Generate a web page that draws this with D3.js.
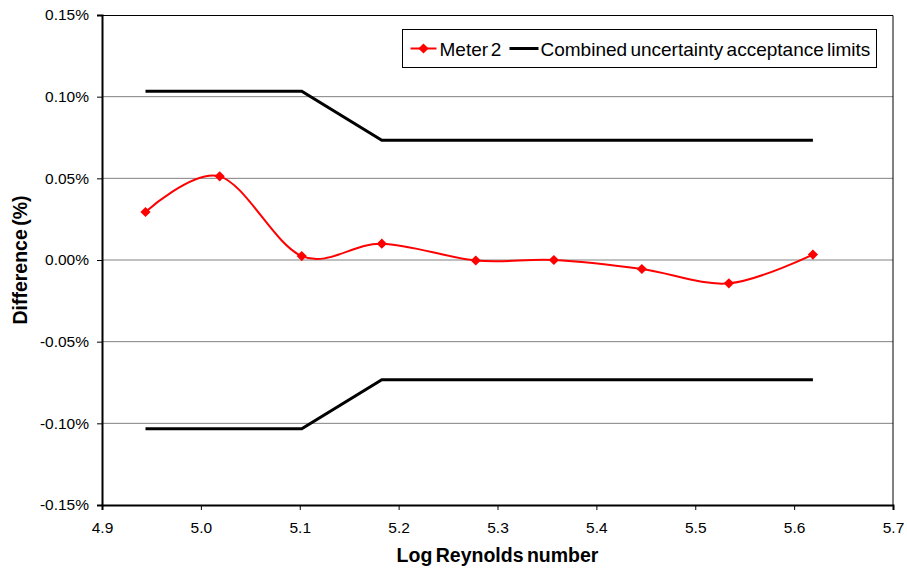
<!DOCTYPE html>
<html>
<head>
  <meta charset="utf-8">
  <title>Meter 2 difference</title>
  <script src="https://d3js.org/d3.v7.min.js"></script>
  <style>
    body { margin: 0; background: #fff; }
    text { font-family: "Liberation Sans", Arial, sans-serif; }
  </style>
</head>
<body>
  <div id="chart"></div>

  <script>
    // data
    var logRe = [4.944, 5.019, 5.102, 5.183, 5.278, 5.357, 5.446, 5.534, 5.619];
    var meter2 = [0.0294, 0.0512, 0.0024, 0.0100, -0.0003, 0.0000, -0.0055, -0.0143, 0.0033];
    var limitX = [4.944, 5.102, 5.183, 5.619];
    var upperLimit = [0.1033, 0.1033, 0.0733, 0.0733];
    var lowerLimit = [-0.1033, -0.1033, -0.0733, -0.0733];
    var xTicks = [4.9, 5.0, 5.1, 5.2, 5.3, 5.4, 5.5, 5.6, 5.7];
    var yTicks = [-0.15, -0.10, -0.05, 0, 0.05, 0.10, 0.15];

    var W = 907, H = 568;
    var margin = { top: 15, right: 14, bottom: 63, left: 102 };
    var width = W - margin.left - margin.right;
    var height = H - margin.top - margin.bottom;

    var svg = d3.select('#chart').append('svg')
      .attr('width', W)
      .attr('height', H);

    var g = svg.append('g')
      .attr('transform', 'translate(' + margin.left + ',' + margin.top + ')');

    var x = d3.scaleLinear().domain([4.9, 5.7]).range([0, width]);
    var y = d3.scaleLinear().domain([-0.15, 0.15]).range([height, 0]);

    // gridlines
    g.selectAll('.grid')
      .data(yTicks.slice(1, -1))
      .enter()
      .append('line')
      .attr('x1', 0)
      .attr('x2', width)
      .attr('y1', function(d) { return y(d); })
      .attr('y2', function(d) { return y(d); })
      .attr('stroke', '#808080')
      .attr('stroke-width', 1);

    // plot area border (top, right)
    g.append('path')
      .attr('d', 'M0,0.5H' + width + 'V' + height)
      .attr('fill', 'none')
      .attr('stroke', '#000')
      .attr('stroke-width', 1);

    // axes
    var yFmt = function(d) { return d3.format('.2f')(d).replace('\u2212', '-') + '%'; };

    var xAxis = g.append('g')
      .attr('transform', 'translate(0,' + height + ')')
      .call(d3.axisBottom(x).tickValues(xTicks).tickFormat(d3.format('.1f')).tickSizeOuter(0).tickSize(5).tickPadding(12));

    var yAxis = g.append('g')
      .call(d3.axisLeft(y).tickValues(yTicks).tickFormat(yFmt).tickSizeOuter(0).tickSize(5).tickPadding(8));

    [xAxis, yAxis].forEach(function(a) {
      a.select('.domain').attr('stroke', '#000').attr('stroke-width', 2);
      a.selectAll('.tick line').attr('stroke', '#000');
      a.selectAll('.tick text')
        .attr('fill', '#000')
        .style('font-size', '15.5px')
        .style('font-family', '"Liberation Sans", Arial, sans-serif');
    });

    // limit lines
    var straight = d3.line()
      .x(function(d) { return x(d[0]); })
      .y(function(d) { return y(d[1]); });

    [upperLimit, lowerLimit].forEach(function(lim) {
      g.append('path')
        .datum(d3.zip(limitX, lim))
        .attr('d', straight)
        .attr('fill', 'none')
        .attr('stroke', '#000')
        .attr('stroke-width', 3);
    });

    // meter 2 smoothed line
    var smooth = d3.line()
      .curve(d3.curveCatmullRom.alpha(0))
      .x(function(d) { return x(d[0]); })
      .y(function(d) { return y(d[1]); });

    var meterData = d3.zip(logRe, meter2);

    g.append('path')
      .datum(meterData)
      .attr('d', smooth)
      .attr('fill', 'none')
      .attr('stroke', '#ff0000')
      .attr('stroke-width', 2);

    // square turned 45 degrees, like excel's diamond
    var diamond = d3.symbol().type(d3.symbolSquare).size(52);

    g.selectAll('.pt')
      .data(meterData)
      .enter()
      .append('path')
      .attr('class', 'pt')
      .attr('d', diamond)
      .attr('transform', function(d) { return 'translate(' + x(d[0]) + ',' + y(d[1]) + ') rotate(45)'; })
      .attr('fill', '#ff0000');

    // legend
    var leg = svg.append('g').attr('transform', 'translate(402.5,29.5)');
    leg.append('rect')
      .attr('width', 474)
      .attr('height', 38)
      .attr('fill', '#fff')
      .attr('stroke', '#000')
      .attr('stroke-width', 1);

    leg.append('line')
      .attr('x1', 8).attr('x2', 34).attr('y1', 19).attr('y2', 19)
      .attr('stroke', '#ff0000').attr('stroke-width', 2);
    leg.append('path')
      .attr('d', diamond)
      .attr('transform', 'translate(21,19) rotate(45)')
      .attr('fill', '#ff0000');
    leg.append('text')
      .attr('x', 37).attr('y', 26)
      .style('font-size', '19px')
      .style('word-spacing', '-2.5px')
      .text('Meter 2');

    leg.append('line')
      .attr('x1', 107).attr('x2', 136).attr('y1', 19).attr('y2', 19)
      .attr('stroke', '#000').attr('stroke-width', 3);
    leg.append('text')
      .attr('x', 138).attr('y', 26)
      .style('font-size', '19px')
      .style('word-spacing', '-2px')
      .text('Combined uncertainty acceptance limits');

    // axis titles
    svg.append('text')
      .attr('x', margin.left + width / 2)
      .attr('y', 562)
      .attr('text-anchor', 'middle')
      .style('font-size', '19.5px')
      .style('font-weight', 'bold')
      .style('word-spacing', '-2px')
      .text('Log Reynolds number');

    svg.append('text')
      .attr('transform', 'rotate(-90)')
      .attr('x', -(margin.top + height / 2))
      .attr('y', 27)
      .attr('text-anchor', 'middle')
      .style('font-size', '19.5px')
      .style('font-weight', 'bold')
      .style('word-spacing', '-2px')
      .text('Difference (%)');
  </script>
</body>
</html>
